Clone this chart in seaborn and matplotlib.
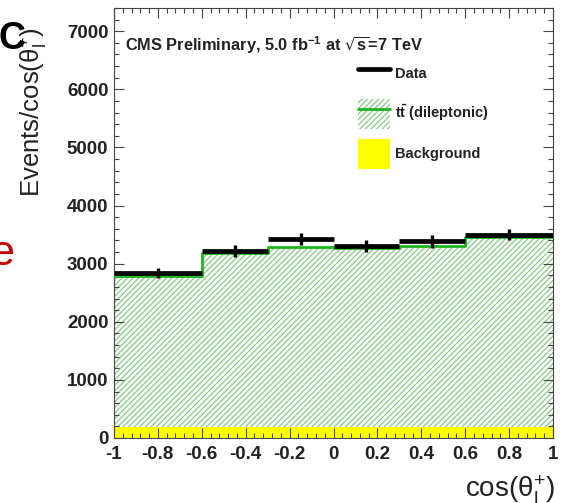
import numpy as np
import pandas as pd
import matplotlib
matplotlib.use("Agg")
import matplotlib.pyplot as plt
from matplotlib.lines import Line2D
from matplotlib.patches import Patch
from matplotlib.ticker import MultipleLocator, FixedLocator, FixedFormatter
import seaborn as sns

# Binning in cos(theta_l+) and per-bin contents (events per unit cos)
bin_edges = [-1.0, -0.6, -0.3, 0.0, 0.3, 0.6, 1.0]
data_values = [2838, 3222, 3429, 3308, 3382, 3498]
data_errors = [84, 103, 107, 105, 106, 93]
ttbar_values = [2600, 3000, 3100, 3085, 3118, 3275]
background_values = [190, 190, 190, 190, 190, 190]

x_tick_values = [-1, -0.8, -0.6, -0.4, -0.2, 0, 0.2, 0.4, 0.6, 0.8, 1]
x_tick_labels = ["-1", "-0.8", "-0.6", "-0.4", "-0.2", "0", "0.2", "0.4", "0.6", "0.8", "1"]
y_tick_values = [0, 1000, 2000, 3000, 4000, 5000, 6000, 7000]

sns.set_style("ticks")
plt.rcParams["font.family"] = ["Liberation Sans", "DejaVu Sans"]
plt.rcParams["mathtext.default"] = "regular"
plt.rcParams["axes.unicode_minus"] = False
plt.rcParams["hatch.linewidth"] = 0.9

hatch_green = "#86c986"
line_green = "#1fb51f"
yellow = "#ffff00"
HATCH = "//////"

edges = np.array(bin_edges)
centers = 0.5 * (edges[:-1] + edges[1:])
half_widths = 0.5 * (edges[1:] - edges[:-1])
bkg = np.array(background_values, dtype=float)
total = bkg + np.array(ttbar_values, dtype=float)

hist_df = pd.DataFrame({"cos": centers, "total": total, "bkg": bkg})

W, H = 563, 503
fig = plt.figure(figsize=(W / 100, H / 100), dpi=100)
ax = fig.add_axes([114 / W, 1 - 438 / H, (553 - 114) / W, (438 - 8) / H])

# Stacked prediction: hatched ttbar on top of the yellow background
sns.histplot(data=hist_df, x="cos", weights="total", bins=bin_edges,
             element="step", fill=True, color="white", alpha=1,
             linewidth=0, ax=ax)
tt_fill = ax.collections[-1]
tt_fill.set_facecolor("white")
tt_fill.set_edgecolor(hatch_green)
tt_fill.set_linewidth(0)
tt_fill.set_hatch(HATCH)
tt_fill.set_zorder(1)

sns.histplot(data=hist_df, x="cos", weights="bkg", bins=bin_edges,
             element="step", fill=True, color=yellow, alpha=1,
             linewidth=0, ax=ax)
bkg_fill = ax.collections[-1]
bkg_fill.set_facecolor(yellow)
bkg_fill.set_edgecolor(yellow)
bkg_fill.set_linewidth(0)
bkg_fill.set_zorder(2)

sns.histplot(data=hist_df, x="cos", weights="total", bins=bin_edges,
             element="step", fill=False, color=line_green, linewidth=2.0,
             ax=ax, zorder=3)

# Data: horizontal bin-width bars plus vertical statistical errors
ax.errorbar(centers, data_values, xerr=half_widths, fmt="none",
            ecolor="black", elinewidth=3.4, capsize=0, zorder=5)
ax.errorbar(centers, data_values, yerr=data_errors, fmt="none",
            ecolor="black", elinewidth=2.4, capsize=0, zorder=5)

ax.set_xlim(-1, 1)
ax.set_ylim(0, 7400)
ax.set_xlabel("")
ax.set_ylabel("")
ax.set_axisbelow(False)

ax.xaxis.set_major_locator(FixedLocator(x_tick_values))
ax.xaxis.set_major_formatter(FixedFormatter(x_tick_labels))
ax.xaxis.set_minor_locator(MultipleLocator(0.04))
ax.yaxis.set_major_locator(FixedLocator(y_tick_values))
ax.yaxis.set_minor_locator(MultipleLocator(200))

ax.tick_params(which="both", direction="in", top=True, right=True,
               color="#444444", width=0.8)
ax.tick_params(which="major", length=7.2)
ax.tick_params(which="minor", length=3.6)
ax.tick_params(axis="x", which="major", pad=6)
ax.tick_params(axis="y", which="major", pad=4)
for lab in ax.get_xticklabels() + ax.get_yticklabels():
    lab.set_fontsize(13.5)
    lab.set_fontweight("bold")
    lab.set_color("#222222")
for sp in ax.spines.values():
    sp.set_linewidth(0.8)
    sp.set_color("#444444")

# Header text
fig.text(125 / W, 1 - 45 / H, r"CMS Preliminary, 5.0 fb$^{-1}$ at $\sqrt{s}$=7 TeV",
         fontsize=11.8, fontweight="bold", color="#222222", va="center", ha="left")

# Legend
handles = [
    Line2D([], [], color="black", lw=3.4),
    (Patch(facecolor="white", edgecolor=hatch_green, hatch=HATCH, linewidth=0),
     Line2D([], [], color=line_green, lw=2.0)),
    Patch(facecolor=yellow, edgecolor=yellow, linewidth=0),
]
labels = ["Data", r"t$\bar{t}$ (dileptonic)", "Background"]
leg = fig.legend(handles, labels, loc="upper left",
                 bbox_to_anchor=(358 / W, 1 - 59 / H), frameon=False,
                 prop={"size": 10.5, "weight": "bold"},
                 handlelength=2.2, handleheight=2.8, handletextpad=0.35,
                 labelspacing=0.68, borderpad=0, borderaxespad=0)
for t in leg.get_texts():
    t.set_color("#222222")

# Axis titles
fig.text(555 / W, 1 - 490 / H, r"cos(θ$_{l}^{+}$)", fontsize=20,
         ha="right", va="center", color="#222222")
fig.text(50 / W, 1 - 197 / H, r"Events/cos(θ$_{l}^{+}$)", fontsize=18.5,
         rotation=90, ha="right", va="bottom", color="#222222")

# Neighbouring slide lettering
fig.text(-1 / W, 1 - 49 / H, "C", fontsize=27, fontweight="bold",
         ha="left", va="baseline", color="black")
fig.text(14 / W, 1 - 265 / H, "e", fontsize=31, ha="right", va="baseline",
         color="#c00000")

fig.savefig("out.png", dpi=100)
